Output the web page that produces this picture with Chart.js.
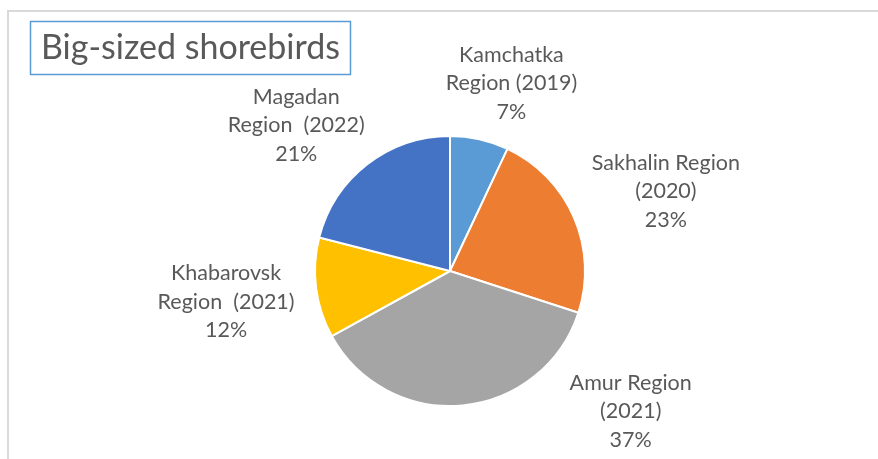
<!DOCTYPE html>
<html>
<head>
<meta charset="utf-8">
<script src="https://cdn.jsdelivr.net/npm/chart.js@4"></script>
<style>
  html, body { margin: 0; padding: 0; background: #fff; }
  #wrap { width: 878px; height: 459px; }
</style>
</head>
<body>
<div id="wrap"><canvas id="pieChart" width="878" height="459"></canvas></div>
<script>
// data
const regionNames = ['Kamchatka', 'Sakhalin Region', 'Amur Region', 'Khabarovsk', 'Magadan'];
const labelLines = [
    ['Kamchatka', 'Region (2019)'],
    ['Sakhalin Region', '(2020)'],
    ['Amur Region', '(2021)'],
    ['Khabarovsk', 'Region  (2021)'],
    ['Magadan', 'Region  (2022)']
];
const shares = [7, 23, 37, 12, 21];
const sliceColors = ['#5B9BD5', '#ED7D31', '#A5A5A5', '#FFC000', '#4472C4'];
const chartTitle = 'Big-sized shorebirds';

const FONT = 'Lato, "Open Sans", sans-serif';
const TEXT = '#595959';

// nudges (px) from the slice's outer mid point, like excel's "best fit"
const labelNudge = [[32, -56], [92, -26], [168, 6], [-90, 14], [-71, -39]];

const frameAndTitle = {
    id: 'frameAndTitle',
    beforeDraw(chart) {
        const ctx = chart.ctx;
        ctx.save();
        ctx.strokeStyle = '#D9D9D9';
        ctx.lineWidth = 2;
        ctx.strokeRect(8, 11, chart.width + 20, chart.height + 20);

        ctx.font = '34px ' + FONT;
        ctx.fillStyle = TEXT;
        ctx.textBaseline = 'middle';
        ctx.textAlign = 'left';
        ctx.fillText(chartTitle, 41, 48);
        const w = ctx.measureText(chartTitle).width;
        ctx.strokeStyle = '#5B9BD5';
        ctx.lineWidth = 1.5;
        ctx.strokeRect(30.5, 21.5, w + 21, 53);
        ctx.restore();
    }
};

const sliceLabels = {
    id: 'sliceLabels',
    afterDatasetsDraw(chart) {
        const ctx = chart.ctx;
        const meta = chart.getDatasetMeta(0);
        ctx.save();
        ctx.font = '21.5px ' + FONT;
        ctx.fillStyle = TEXT;
        ctx.textAlign = 'center';
        ctx.textBaseline = 'middle';
        meta.data.forEach((arc, i) => {
            const p = arc.getProps(['x', 'y', 'startAngle', 'endAngle', 'outerRadius'], true);
            const mid = (p.startAngle + p.endAngle) / 2;
            const cx = p.x + Math.cos(mid) * p.outerRadius + labelNudge[i][0];
            const cy = p.y + Math.sin(mid) * p.outerRadius + labelNudge[i][1];
            const lines = labelLines[i].concat([shares[i] + '%']);
            lines.forEach((t, k) => {
                ctx.fillText(t, cx, cy + (k - 1) * 28.5);
            });
        });
        ctx.restore();
    }
};

new Chart(document.getElementById('pieChart'), {
    type: 'pie',
    data: {
        labels: regionNames,
        datasets: [{
            data: shares,
            backgroundColor: sliceColors,
            borderColor: '#FFFFFF',
            borderWidth: 2
        }]
    },
    options: {
        responsive: false,
        animation: false,
        layout: {
            padding: { left: 314, right: 292, top: 134, bottom: 51 }
        },
        plugins: {
            legend: { display: false },
            tooltip: { enabled: false },
            title: { display: false }
        }
    },
    plugins: [frameAndTitle, sliceLabels]
});
</script>
</body>
</html>
